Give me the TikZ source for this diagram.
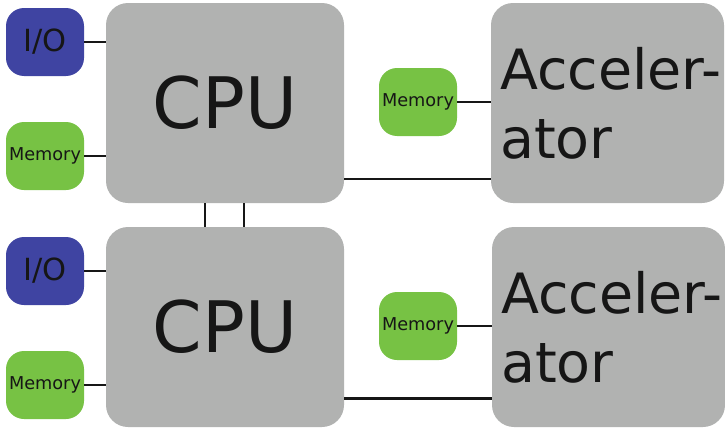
\documentclass[tikz,border=0pt]{standalone}
\usepackage{fontspec}
\setmainfont{DejaVu Sans}
\definecolor{iobl}{HTML}{3F44A2}
\definecolor{memgr}{HTML}{77C244}
\definecolor{boxgr}{HTML}{B1B2B1}
\definecolor{txt}{HTML}{161616}
\begin{document}
\begin{tikzpicture}[x=1pt,y=-1pt,
  base/.style={rounded corners=18pt, inner sep=0pt, text=txt},
  iobox/.style={base, fill=iobl, minimum width=78pt, minimum height=68pt, font=\fontsize{30.5}{30.5}\selectfont},
  membox/.style={base, fill=memgr, minimum width=78pt, minimum height=68pt, font=\fontsize{17.7}{17.7}\selectfont},
  cpubox/.style={base, rounded corners=22pt, fill=boxgr, minimum width=238pt, minimum height=200pt, font=\fontsize{71}{71}\selectfont},
  accbox/.style={base, rounded corners=22pt, fill=boxgr, minimum width=233pt, minimum height=200pt, text width=215pt, align=left, font=\fontsize{55.5}{69}\selectfont},
  conn/.style={draw=txt, line width=2pt},
  thickconn/.style={draw=txt, line width=3pt}]
\useasboundingbox (0,0) rectangle (725,431);
% top row
\node[iobox] (io1) at (45,42) {I/O};
\node[membox] (mem1) at (45,156) {Memory};
\node[cpubox] (cpu1) at (225,103) {CPU};
\node[membox] (memr1) at (418,102) {Memory};
\node[accbox] (acc1) at (607.5,103) {\mbox{Acceler-}\\ator};
% bottom row
\node[iobox] (io2) at (45,271) {I/O};
\node[membox] (mem2) at (45,385) {Memory};
\node[cpubox] (cpu2) at (225,327) {CPU};
\node[membox] (memr2) at (418,326) {Memory};
\node[accbox] (acc2) at (608.5,327) {\mbox{Acceler-}\\ator};
% connectors
\draw[conn] (io1.east) -- (io1.east -| cpu1.west);
\draw[conn] (mem1.east) -- (mem1.east -| cpu1.west);
\draw[conn] (memr1.east) -- (memr1.east -| acc1.west);
\draw[conn] (cpu1.east |- 0,179) -- (acc1.west |- 0,179);
\draw[conn] (cpu1.south -| 205,0) -- (cpu2.north -| 205,0);
\draw[conn] (cpu1.south -| 244,0) -- (cpu2.north -| 244,0);
\draw[conn] (io2.east) -- (io2.east -| cpu2.west);
\draw[conn] (mem2.east) -- (mem2.east -| cpu2.west);
\draw[conn] (memr2.east) -- (memr2.east -| acc2.west);
\draw[thickconn] (cpu2.east |- 0,398) -- (acc2.west |- 0,398);
\end{tikzpicture}
\end{document}
